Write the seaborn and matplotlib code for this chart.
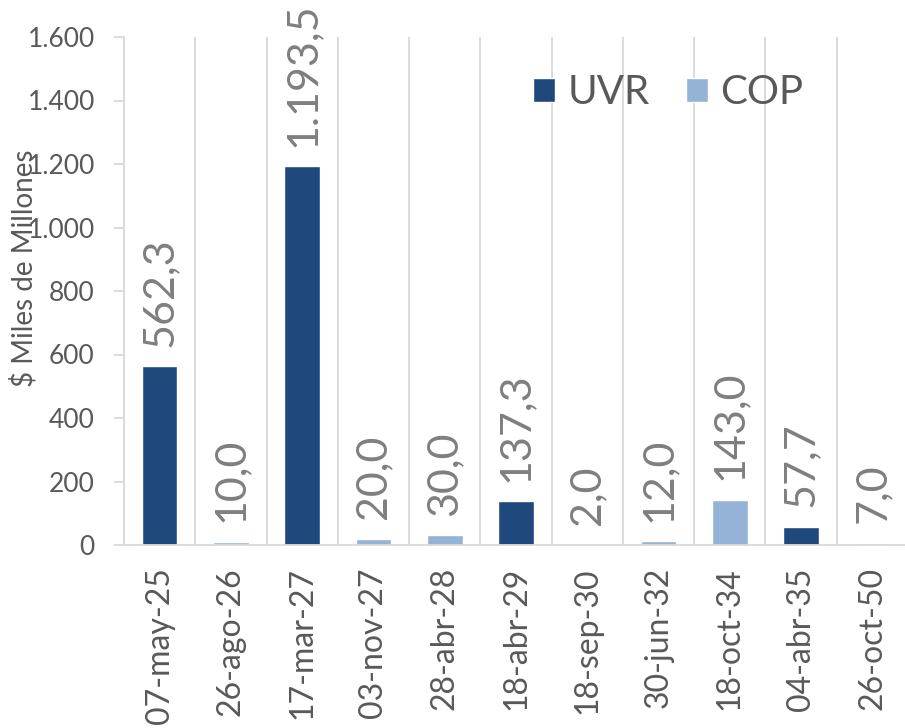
import numpy as np
import pandas as pd
import matplotlib
matplotlib.use("Agg")
import matplotlib.pyplot as plt
import seaborn as sns

fechas = ['07-may-25', '26-ago-26', '17-mar-27', '03-nov-27', '28-abr-28', '18-abr-29',
          '18-sep-30', '30-jun-32', '18-oct-34', '04-abr-35', '26-oct-50']
tipos = ['UVR', 'COP', 'UVR', 'COP', 'COP', 'UVR', 'COP', 'COP', 'COP', 'UVR', 'COP']
valores = [562.3, 10.0, 1193.5, 20.0, 30.0, 137.3, 2.0, 12.0, 143.0, 57.7, 7.0]
yticks = [0, 200, 400, 600, 800, 1000, 1200, 1400, 1600]

df = pd.DataFrame({'fecha': fechas, 'tipo': tipos, 'valor': valores})

colores = {'UVR': '#1F497D', 'COP': '#95B3D7'}
gris_txt = '#595959'
gris_lbl = '#7F7F7F'
gris_lin = '#D9D9D9'


def fmt_es(v, dec=1):
    s = f"{v:,.{dec}f}"
    return s.replace(',', 'X').replace('.', ',').replace('X', '.')


sns.set_style('white')
plt.rcParams['font.family'] = ['Lato', 'DejaVu Sans']

fig = plt.figure(figsize=(9.05, 7.28), dpi=100)
ax = fig.add_axes([124 / 905, 183 / 728, 784 / 905, 508 / 728])

sns.barplot(data=df, x='fecha', y='valor', hue='tipo', hue_order=['UVR', 'COP'],
            order=fechas, palette=colores, dodge=False, width=0.5, saturation=1,
            ax=ax)

# etiquetas de valor sobre cada barra
for cont in ax.containers:
    labels = [fmt_es(b.get_height()) for b in cont]
    ax.bar_label(cont, labels=labels, rotation=90, padding=14, fontsize=31,
                 color=gris_lbl, clip_on=False)

ax.set_xlim(-0.5, len(fechas) - 0.5)
ax.set_ylim(0, 1600)
ax.set_yticks(yticks)
ax.set_yticklabels([fmt_es(t, 0) for t in yticks])
ax.set_xlabel('')
ax.set_ylabel('')

ax.set_xticks(np.arange(-0.5, len(fechas), 1), minor=True)
ax.grid(which='minor', axis='x', color=gris_lin, linewidth=1.3)
ax.grid(which='major', axis='y', visible=False)
ax.tick_params(axis='x', which='both', length=0, pad=16, labelsize=23,
               labelcolor=gris_txt, labelrotation=90)
ax.tick_params(axis='y', which='major', length=7, width=1.3, color=gris_lin,
               pad=14, labelsize=19, labelcolor=gris_txt, left=True)

for s in ['top', 'right']:
    ax.spines[s].set_visible(False)
for s in ['left', 'bottom']:
    ax.spines[s].set_color(gris_lin)
    ax.spines[s].set_linewidth(1.3)

fig.text(24 / 905, 1 - 268 / 728, '$ Miles de Millones', rotation=90,
         ha='center', va='center', fontsize=20, color=gris_txt)

ax.legend(loc='center left', bbox_to_anchor=(533 / 905, 1 - 93 / 728),
          bbox_transform=fig.transFigure, ncol=2, frameon=False, fontsize=29,
          handlelength=0.55, handleheight=0.55, handletextpad=0.3,
          columnspacing=0.9, borderpad=0, borderaxespad=0, labelcolor=gris_txt)

fig.savefig('out.png', dpi=100)
